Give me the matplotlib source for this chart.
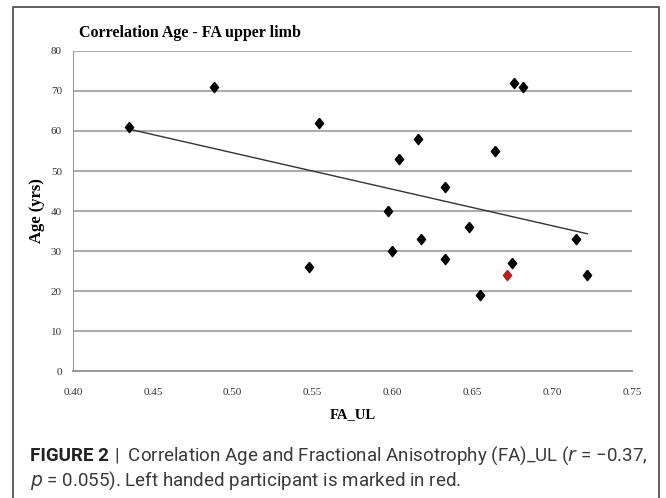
import numpy as np
import matplotlib.pyplot as plt
from matplotlib.lines import Line2D

# datos
fa_ul = [0.435, 0.488, 0.554, 0.548, 0.597, 0.600, 0.604, 0.616, 0.618, 0.633,
         0.633, 0.648, 0.655, 0.664, 0.675, 0.676, 0.682, 0.715, 0.722]
edad = [61, 71, 62, 26, 40, 30, 53, 58, 33, 46,
        28, 36, 19, 55, 27, 72, 71, 33, 24]
zurdo_fa = [0.672]
zurdo_edad = [24]

x_ticks = [0.40, 0.45, 0.50, 0.55, 0.60, 0.65, 0.70, 0.75]
y_ticks = [0, 10, 20, 30, 40, 50, 60, 70, 80]

fig = plt.figure(figsize=(6.66, 4.98), dpi=100)
ax = fig.add_axes([0.1096, 0.255, 0.8394, 0.6426])

serif = ['Liberation Serif', 'DejaVu Serif']
diamante = [(0, 1), (0.8, 0), (0, -1), (-0.8, 0), (0, 1)]

# linea de tendencia
todos_x = np.array(fa_ul + zurdo_fa)
todos_y = np.array(edad + zurdo_edad)
m, b = np.polyfit(todos_x, todos_y, 1)
xt = np.array([todos_x.min(), todos_x.max()])
ax.plot(xt, m * xt + b, color='#333333', linewidth=1.0, zorder=2)

ax.scatter(fa_ul, edad, marker=diamante, s=55, color='black', zorder=3)
ax.scatter(zurdo_fa, zurdo_edad, marker=diamante, s=55, color='#b22222', zorder=3)

ax.set_xlim(0.40, 0.75)
ax.set_ylim(0, 80)
ax.set_xticks(x_ticks)
ax.set_xticklabels([f'{v:.2f}' for v in x_ticks])
ax.set_yticks(y_ticks)
ax.tick_params(length=0, labelsize=8, labelcolor='#333333')
ax.tick_params(axis='x', pad=12)
ax.tick_params(axis='y', pad=8)
for lab in ax.get_xticklabels() + ax.get_yticklabels():
    lab.set_family(serif)

ax.grid(axis='y', color='#aaaaaa', linewidth=1.4)
ax.set_axisbelow(True)
for s in ['top', 'right']:
    ax.spines[s].set_visible(False)
ax.spines['left'].set_color('#999999')
ax.spines['bottom'].set_color('#999999')
ax.spines['bottom'].set_linewidth(1.4)

ax.set_xlabel('FA_UL', family=serif, fontweight='bold', fontsize=10.5, labelpad=8)
ax.set_ylabel('Age (yrs)', family=serif, fontweight='bold', fontsize=12, labelpad=4)
fig.text(0.118, 0.934, 'Correlation Age - FA upper limb', family=serif,
         fontweight='bold', fontsize=11.5, va='center')

# marco
fig.add_artist(Line2D([0.0195, 0.0195, 0.990, 0.990], [0.0, 0.986, 0.986, 0.0],
                      transform=fig.transFigure, color='#444444', linewidth=1.2))

sans = ['Roboto', 'Liberation Sans', 'DejaVu Sans']
t1 = fig.text(0.045, 0.084, 'FIGURE 2', family=sans, fontweight='bold', fontsize=13.5,
              color='#222222', va='center')
fig.canvas.draw()
x_fin = fig.transFigure.inverted().transform(
    t1.get_window_extent(fig.canvas.get_renderer()).p1)[0]
fig.text(x_fin + 0.008, 0.084,
         '|  Correlation Age and Fractional Anisotrophy (FA)_UL ($\\it{r}$ = \u22120.37,',
         family=sans, fontsize=13.5, color='#3a3a3a', va='center')
fig.text(0.045, 0.034, '$\\it{p}$ = 0.055). Left handed participant is marked in red.',
         family=sans, fontsize=13.5, color='#3a3a3a', va='center')

fig.savefig('out.png', dpi=100)
